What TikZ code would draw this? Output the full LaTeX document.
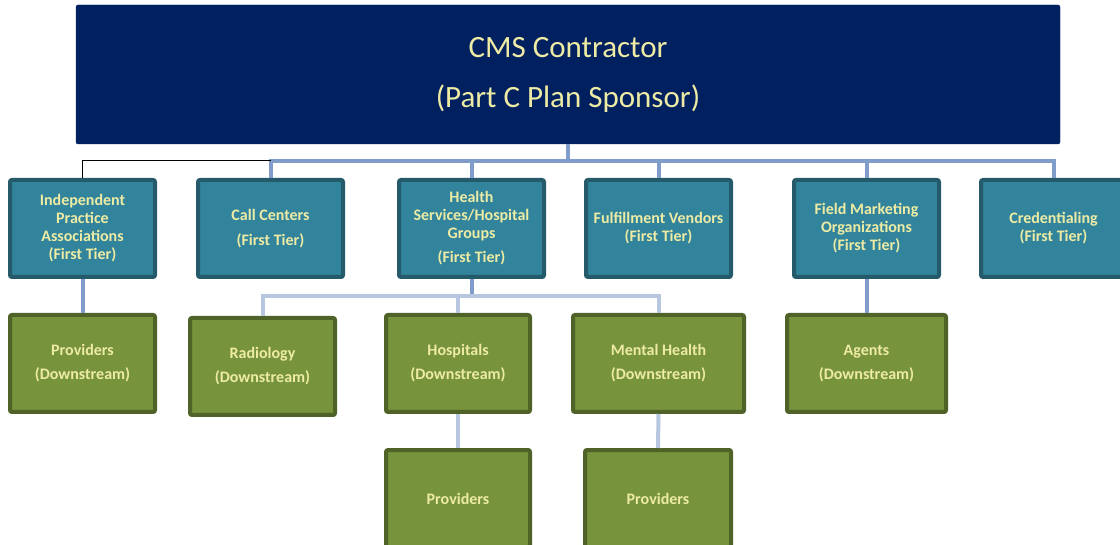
\documentclass[tikz,border=0pt]{standalone}
\usepackage{fontspec}
\setmainfont{Carlito}
\definecolor{navy}{HTML}{002060}
\definecolor{tealfill}{HTML}{31849B}
\definecolor{tealline}{HTML}{245A6A}
\definecolor{greenfill}{HTML}{77933C}
\definecolor{greenline}{HTML}{4F6228}
\definecolor{labeltext}{HTML}{EEEBA5}
\definecolor{busblue}{HTML}{7F9CCB}
\definecolor{buslight}{HTML}{B8C7E0}
\tikzset{
  topbox/.style={rectangle, fill=navy, draw=navy, rounded corners=2pt, minimum width=984, minimum height=139,
    text=labeltext, align=center, font=\fontsize{31}{50}\selectfont},
  tier/.style={rectangle, fill=tealfill, draw=tealline, line width=4pt, rounded corners=2pt,
    minimum width=145, minimum height=97, text=labeltext, align=center, inner sep=0pt,
    font=\fontsize{16}{18}\selectfont\bfseries},
  down/.style={rectangle, fill=greenfill, draw=greenline, line width=4pt, rounded corners=2pt,
    minimum width=145, minimum height=97, text=labeltext, align=center, inner sep=0pt,
    font=\fontsize{16}{24}\selectfont\bfseries},
  topbus/.style={draw=busblue, line width=4pt},
  lowbus/.style={draw=buslight, line width=4pt}
}
\begin{document}
\begin{tikzpicture}[x=1pt,y=-1pt]
\clip (0,0) rectangle (1120,545);
\fill[white] (0,0) rectangle (1120,545);
\coordinate (bus) at (0,161);
\coordinate (hbus) at (0,296);
\node[topbox] (cms) at (568,74.5) {CMS Contractor\\(Part C Plan Sponsor)};
\node[tier] (ipa) at (82.5,228.5) {Independent\\Practice\\Associations\\(First Tier)};
\node[tier] (cc) at (270.5,228.5) {Call Centers\\[7pt](First Tier)};
\node[tier] (hsg) at (471.5,228.5) {Health\\Services/Hospital\\Groups\\[6pt](First Tier)};
\node[tier] (fv) at (658.5,228.5) {Fulfillment Vendors\\(First Tier)};
\node[tier] (fmo) at (866.5,228.5) {Field Marketing\\Organizations\\(First Tier)};
\node[tier] (cred) at (1053.5,228.5) {Credentialing\\(First Tier)};
\node[down] (prov) at (82.5,363.5) {Providers\\(Downstream)};
\node[down] (rad) at (262.5,366.5) {Radiology\\(Downstream)};
\node[down, minimum width=144] (hosp) at (458,363.5) {Hospitals\\(Downstream)};
\node[down, minimum width=171] (mh) at (658.5,363.5) {Mental Health\\(Downstream)};
\node[down, minimum width=159] (agents) at (866.5,363.5) {Agents\\(Downstream)};
\node[down, minimum width=144] (hprov) at (458,498.5) {Providers};
\node[down, minimum width=146] (mprov) at (658,498.5) {Providers};
\draw[topbus] (cms.south) -- (cms.south |- bus);
\draw[topbus] (cc.north) |- (bus -| cred.north) -- (cred.north);
\draw[topbus] (hsg.north) -- (hsg.north |- bus);
\draw[topbus] (fv.north) -- (fv.north |- bus);
\draw[topbus] (fmo.north) -- (fmo.north |- bus);
\draw[black, line width=1pt] (ipa.north) |- (cc.north |- bus);
\draw[topbus] (ipa.south) -- (prov.north);
\draw[topbus] (fmo.south) -- (agents.north);
\draw[topbus] (hsg.south) -- (hsg.south |- hbus);
\draw[lowbus] (rad.north) |- (hbus -| mh.north) -- (mh.north);
\draw[lowbus] (hosp.north) -- (hosp.north |- hbus);
\draw[lowbus] (hosp.south) -- (hprov.north);
\draw[lowbus] (mh.south) -- (mprov.north);
\end{tikzpicture}
\end{document}
